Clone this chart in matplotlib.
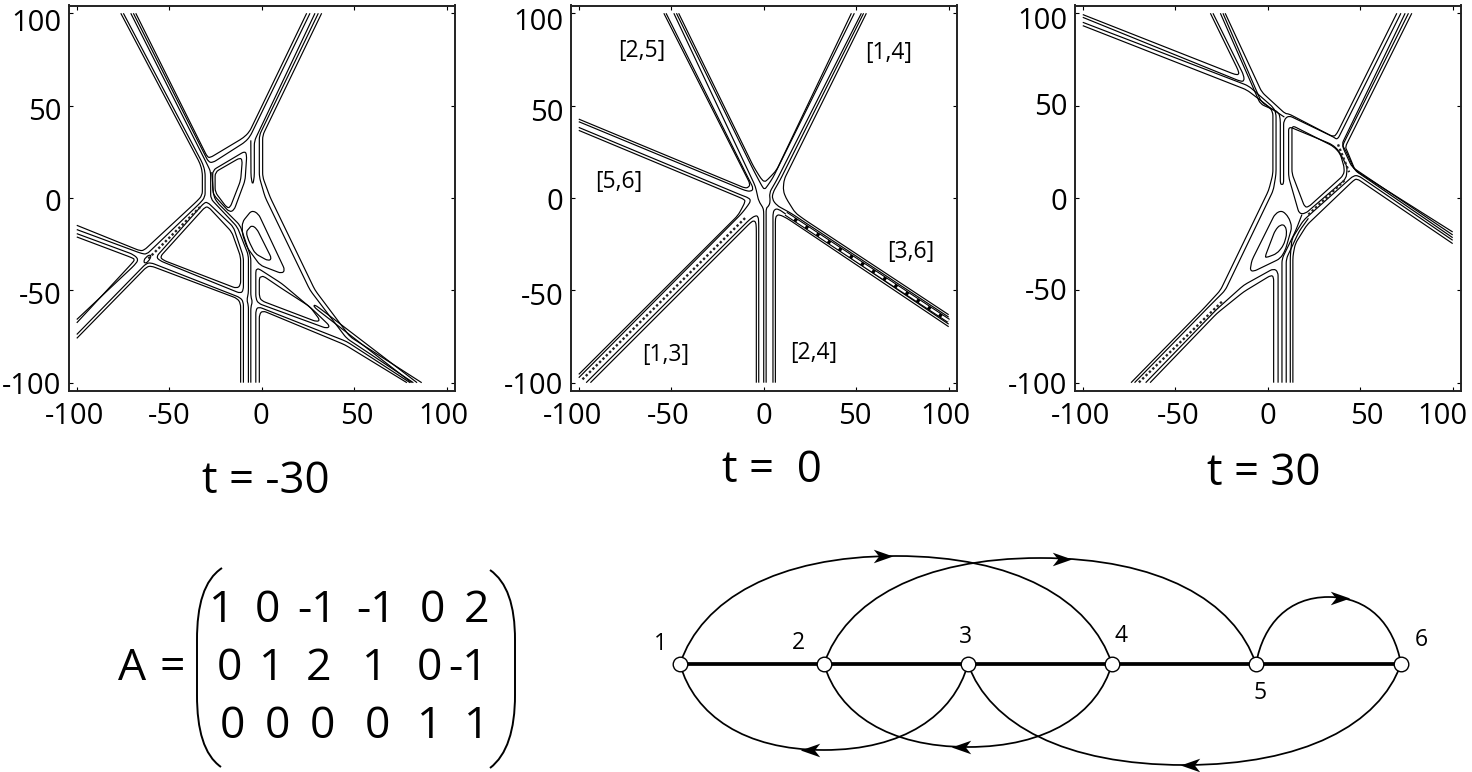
#! /usr/bin/env python3
#
# KP soliton contour panels, chord diagram and A matrix
#
import matplotlib as mpl
mpl.use('Agg')
import matplotlib.pyplot as plt
from matplotlib.path import Path
from matplotlib.patches import PathPatch
from matplotlib.transforms import ScaledTranslation

plt.rcParams['font.family'] = ['Open Sans', 'DejaVu Sans']

tick_values = [-100, -50, 0, 50, 100]
tick_labels = ['-100', '-50', '0', '50', '100']
panel_titles = ['t = -30', 't =  0', 't = 30']

# tick labels in the picture sit a little off their ticks (pixels)
p1_xlabel_shift = [-2, 0, -1, 3, -3.5]
p2_xlabel_shift = [-6, -3, 0, -1, -3]
p3_xlabel_shift = [-2.5, 3, 0, 7, -10]
p1_ylabel_shift = [0, -3, -2, -3, -7]
p2_ylabel_shift = [0, -4, -1, -4, -6]
p3_ylabel_shift = [0, 1, -1, 2, -5]

# t = -30 contour lines, data coordinates
p1_lines = [
    [(-76.2, 100), (-33.3, 18.6), (-32.1, 14.1), (-32.1, 1.4), (-35.1, -1.8), (-63.6, -28.3), (-65.8, -28.6), (-100, -14.8)],
    [(-74.8, 100), (-31.9, 18.6), (-30.6, 14.1), (-30.6, 0.5), (-33.3, -2.7), (-62.2, -30.5), (-64.9, -30.1), (-100, -17.1)],
    [(-100, -19.3), (-69.4, -30.6), (-66.5, -33.3), (-68.8, -36.4), (-100, -65.8)],
    [(-100, -21.1), (-70.3, -32.3), (-68.5, -33.3), (-70.3, -35.5), (-100, -67.6)],
    [(-100, -73.9), (-62.5, -35.5), (-60, -35), (-11.7, -53.9), (-9.9, -56.2), (-9.9, -100)],
    [(-100, -76), (-62.2, -37.3), (-59.8, -36.8), (-13.2, -54.4), (-11.4, -57.1), (-11.4, -100)],
    [(-57.1, -31.9), (-31.2, -2.7), (-29.4, -2.2), (-15.3, -15.7), (-9.9, -31.9), (-9.9, -49.9), (-11.4, -51.7), (-55, -34), (-57.1, -31.9)],
    [(-55, -31.9), (-30.6, -4.9), (-28.8, -4.9), (-16.2, -18.4), (-11.4, -31.9), (-11.4, -47.2), (-13.5, -49), (-53.2, -33.7), (-55, -31.9)],
    [(-63.6, -33.3), (-61.3, -31), (-59.5, -31), (-61.3, -34.6), (-63.6, -35.5), (-63.6, -33.3)],
    [(-70.8, 100), (-28.8, 16.8), (-27.6, 14.1), (-27.6, -0.4), (-13.2, -15.7), (-7.2, -31), (-7.2, -51.7), (-8.1, -55.3), (-7.2, -58), (-7.2, -100)],
    [(-27, 14), (-26, 1), (-24, -2.5), (-11.7, -14.8), (-5.9, -31.9), (-5.9, -53.5), (-5, -56.2), (-5.9, -58.9), (-5.9, -100)],
    [(-26.5, 15), (-9, 25.4), (-8.1, 23), (-9, 9.5), (-15, -6.7), (-17.5, -7.6), (-25.8, 1.4), (-26.5, 4.1), (-26.5, 15)],
    [(-25.2, 14), (-11.7, 21.8), (-10.5, 20.4), (-11.4, 9.5), (-17.1, -5.2), (-18.9, -5.2), (-25.2, 3.2), (-25.2, 14)],
    [(-68.1, 100), (-29.4, 22.2), (-27.9, 21.8), (-9.9, 32.6), (-6.7, 35.7), (24.3, 100)],
    [(-69.4, 100), (-28.8, 19.5), (-26.5, 19.1), (-9, 30.3), (-6.3, 33.3), (26.1, 100)],
    [(28.8, 100), (-4, 30.8), (-4, 11.4), (-4.9, 6.8), (-5.8, 11.4), (-5.9, 31.2)],
    [(30.6, 100), (-1.3, 33.9), (-1.3, 11.4), (1.8, 0.5), (26.1, -49.9), (45.9, -76), (82, -100)],
    [(32.4, 100), (0.5, 33.9), (0.5, 11.4), (4.5, 0.5), (28.8, -49.9), (47.7, -75.1), (86.5, -100)],
    [(-10.5, -13), (-5.4, -6.7), (-1.8, -8.5), (12.6, -39.1), (10.8, -40.9), (-0.9, -36.4), (-8.1, -26.5), (-10.5, -19.3), (-10.5, -13)],
    [(-8.5, -18.4), (-5.4, -14.8), (-2.7, -16.6), (5.4, -32.8), (3.6, -34.1), (-3.6, -30.1), (-7.2, -22.9), (-8.5, -18.4)],
    [(-3.2, -39.1), (-1.8, -38.2), (10.8, -46.3), (27.9, -60.7), (36.9, -69.4), (35.1, -70.6), (-1.8, -57.1), (-3.2, -54.4), (-3.2, -39.1)],
    [(-1.3, -43.1), (0.9, -42.3), (10.8, -49), (26.1, -58.9), (31.5, -66.1), (29.7, -67), (0, -55.7), (-1.3, -53.5), (-1.3, -43.1)],
    [(-3.2, -100), (-3.2, -60.7), (-1.8, -58.9), (45.9, -77.7), (80.2, -100)],
    [(-1.3, -100), (-1.3, -63), (0.5, -61), (45, -79.5), (78.5, -100)],
    [(84, -100), (29.5, -58.3), (28, -58), (28.8, -59.5), (81, -100)],
]
p1_dots = [[(-61.3, -32.8), (-33.3, -4.9)]]

# t = 0 contour lines
p2_lines = [
    [(-46, 100), (-5.5, 17), (-1.5, 10.5), (0.4, 8.6), (2.2, 10), (6.9, 15), (47.4, 100)],
    [(-47.2, 100), (-5.5, 15), (-1, 6.5), (0.4, 4.5), (2, 6.5), (5, 11), (49, 100)],
    [(-48.6, 100), (-4.5, 6.3), (-2.7, -1.8), (-0.5, -5), (0, -7), (0, -100)],
    [(52.8, 100), (7.2, 10), (3, 2.7), (3.6, -1.8), (2.7, -4.5), (1.3, -5.4), (1.3, -100)],
    [(54, 100), (9, 10), (5, 3), (4.5, -0.5), (7, -4), (15, -8.4), (100, -64.5)],
    [(55.5, 100), (11, 10), (10.5, 4), (12, 0), (17, -8), (22, -11.7), (100, -63.2)],
    [(-100, 42.7), (-10, 5.3), (-8.2, 5.8), (-7.3, 7.5), (-54, 100)],
    [(-100, 41.3), (-10, 4), (-7, 3.5), (-5.5, 5), (-52.8, 100)],
    [(-100, 38.2), (-12, 1.5), (-8, 0), (-7, -1.5), (-8.5, -4), (-12, -8.5), (-100, -97.3)],
    [(-100, 36.6), (-14, 0.7), (-10.5, -0.8), (-10, -2), (-12, -6), (-14, -9.5), (-100, -95.5)],
    [(-93.7, -100), (-7, -13.2), (-5.5, -12.3), (-4.3, -13), (-4, -16), (-4, -100)],
    [(-96, -100), (-7.5, -11.5), (-4.5, -9.5), (-3, -10), (-2.7, -13), (-2.7, -100)],
    [(6.3, -100), (6.3, -11), (7, -9.5), (8.5, -9), (12.6, -11), (100, -69.7)],
    [(5, -100), (5, -8), (6, -6), (8, -6), (13, -9.5), (100, -68.3)],
]
p2_dots = [[(-98, -98.2), (-10, -10.8)]]
p2_dashes = [[(12, -8.5), (100, -66.5)]]
p2_names = ['[2,5]', '[1,4]', '[5,6]', '[3,6]', '[1,3]', '[2,4]']
p2_name_x = [-66.1, 67.4, -78.5, 79.3, -53, 26.9]
p2_name_y = [79.6, 78.4, 8.8, -29.1, -85.1, -83.8]

# t = 30 contour lines
p3_lines = [
    [(-100, 99.3), (-17.6, 66.8), (-15.5, 66.8), (-15.9, 69), (-31, 100)],
    [(-100, 97.8), (-14.9, 63.2), (-12.7, 63.2), (-13, 66.5), (-29.6, 100)],
    [(-100, 95.1), (-10.4, 60.7), (3, 49), (4.5, 45.9), (4.5, 13), (3, 4.1), (-23, -50), (-31, -58), (-72, -100)],
    [(-100, 93.3), (-11.3, 58.5), (0.5, 49.5), (2.8, 46.7), (2.8, 13), (0.5, 4.1), (-25.6, -50), (-34.7, -59.9), (-73.9, -100)],
    [(-25.6, 100), (-4, 50.9), (5.9, 46.5), (6.8, 42.9), (6.8, 7.7), (7.7, 7.2), (8.6, 7.7), (8.6, 42), (11.3, 44.7), (35.6, 33), (37.7, 31.5), (72, 100)],
    [(-23, 100), (-3.2, 57.3), (9.5, 45.6), (11.3, 45.6), (35.6, 33), (37.4, 34.8), (69.8, 100)],
    [(-24.2, 100), (-3.5, 52), (9, 43.8)],
    [(13.1, 39.3), (35.6, 27.9), (39.2, 24), (41.5, 16), (41, 12.3), (22, -4.9), (20, -4.9), (13.1, 13.2), (13.1, 39.3)],
    [(11.3, 38.7), (34.7, 29), (38.3, 25.8), (43, 16.8), (42.4, 10.5), (20.3, -8.5), (17, -8.5), (11.3, 11.4), (11.3, 38.7)],
    [(100, -24.7), (48.2, 10.5), (46.4, 9.5), (21.2, -14.6), (14.9, -24.7), (13.6, -31.5), (13.6, -100)],
    [(100, -22.9), (49, 12.1), (46.4, 12.1), (19.4, -12), (13.1, -22), (12.2, -31.5), (12.2, -100)],
    [(77.9, 100), (41.9, 27.6), (42.8, 25.8), (47.3, 14.9), (100, -18.4)],
    [(76.1, 100), (40.5, 28.5), (40.9, 26.7), (45.5, 16.8), (100, -20)],
    [(74.3, 100), (40, 29), (42, 26), (47, 15), (100, -21.5)],
    [(-9.5, -39.1), (-8.6, -33.8), (4, -8.5), (7.7, -6.7), (11.3, -10.3), (13.1, -15.7), (9.5, -28.3), (6.8, -32.8), (-7.7, -39.8), (-9.5, -39.1)],
    [(-1.4, -31.7), (4, -17.5), (6.8, -14.4), (9.5, -14.8), (10.4, -19.3), (8.6, -25.6), (5, -30.1), (-0.8, -32.3), (-1.4, -31.7)],
    [(7.7, -100), (7.7, -33), (15, -18), (18.5, -9)],
    [(10, -100), (10, -33), (17, -18), (22, -11)],
    [(3.2, -100), (3.2, -42.7), (1.8, -41.8), (-13, -50.8), (-27.5, -62.5), (-63.6, -100)],
    [(5.6, -100), (5.6, -40), (3.2, -38.2), (-13, -47.2), (-27.5, -60.2), (-66, -100)],
]
p3_dots = [[(22, -9), (42, 10)], [(-24.8, -56.2), (-69.8, -100)], [(38, 29), (44, 14)]]

# matrix
matrix_rows = [['1', '0', '-1', '-1', '0', '2'],
               ['0', '1', '2', '1', '0', '-1'],
               ['0', '0', '0', '0', '1', '1']]
matrix_col_x = [[222, 267, 317, 376, 432, 477],
                [229, 272, 319, 375, 429, 468],
                [232, 277, 322, 377, 430, 477]]
matrix_row_y = [611, 669, 727]
paren_left = [(222, 568), (204, 580), (197, 605), (197, 640), (197, 695), (197, 730), (204, 755), (221, 767)]
paren_right = [(490, 570), (507, 582), (515, 605), (515, 640), (515, 695), (515, 730), (507, 755), (490, 768)]

# chord diagram
node_x = [680, 824, 968, 1112, 1256, 1401]
node_y = 664
node_names = ['1', '2', '3', '4', '5', '6']
node_name_x = [660, 798, 965, 1121, 1260, 1421]
node_name_y = [644, 643, 637, 636, 693, 640]
arc_from = [1, 2, 5, 1, 2, 3]
arc_to = [4, 5, 6, 3, 4, 6]
arc_height = [108, 106, 67, -86, -83, -101]
arrow_x = [883, 1062, 1340, 810, 961, 1190]
arrow_y = [556, 559, 598, 750, 747, 765]
arrow_dir = [1, 1, 1, -1, -1, -1]

fig = plt.figure(figsize=(14.72, 7.72), dpi=100)


def rounded_path(line, radius=2.2):
    # straight runs between the points, a small quadratic bend at each one
    pts = list(line)
    if pts[0] == pts[-1]:
        start = ((pts[0][0] + pts[1][0]) / 2, (pts[0][1] + pts[1][1]) / 2)
        pts = [start] + pts[1:] + [start]
    verts = [pts[0]]
    codes = [Path.MOVETO]
    for prev, cur, nxt in zip(pts[:-2], pts[1:-1], pts[2:]):
        d1 = ((cur[0] - prev[0]) ** 2 + (cur[1] - prev[1]) ** 2) ** 0.5
        d2 = ((nxt[0] - cur[0]) ** 2 + (nxt[1] - cur[1]) ** 2) ** 0.5
        r1 = min(radius, d1 / 2) / d1
        r2 = min(radius, d2 / 2) / d2
        verts.append((cur[0] - (cur[0] - prev[0]) * r1, cur[1] - (cur[1] - prev[1]) * r1))
        verts.append(cur)
        verts.append((cur[0] + (nxt[0] - cur[0]) * r2, cur[1] + (nxt[1] - cur[1]) * r2))
        codes += [Path.LINETO, Path.CURVE3, Path.CURVE3]
    verts.append(pts[-1])
    codes.append(Path.LINETO)
    return Path(verts, codes)


def contour_panel(left, lines, dots, dashes, xshift, yshift):
    ax = fig.add_axes([left / 1472, 1 - 391 / 772, 386 / 1472, 385.5 / 772])
    for line in lines:
        ax.add_patch(PathPatch(rounded_path(line), fill=False, edgecolor='black',
                               lw=0.85, joinstyle='round'))
    for line in dots:
        xx, yy = zip(*line)
        ax.plot(xx, yy, color='#222222', lw=1.7, linestyle=(0, (1, 1.0)),
                dash_capstyle='butt')
    for line in dashes:
        xx, yy = zip(*line)
        ax.plot(xx, yy, color='black', lw=3.2, solid_capstyle='butt')
        ax.plot(xx, yy, color='white', lw=1.6, linestyle=(0, (4.5, 1.5)),
                dash_capstyle='butt')
    ax.set_xlim(-104.2, 104.5)
    ax.set_ylim(-104.5, 104.2)
    ax.set_xticks(tick_values)
    ax.set_yticks(tick_values)
    ax.set_xticklabels(tick_labels)
    ax.set_yticklabels(tick_labels)
    ax.tick_params(direction='in', length=3, width=0.8, top=True, right=True,
                   labelsize=21)
    ax.tick_params(axis='x', pad=8)
    ax.tick_params(axis='y', pad=5.5)
    for label, dd in zip(ax.get_xticklabels(), xshift):
        label.set_transform(label.get_transform() + ScaledTranslation(dd / 100, 0, fig.dpi_scale_trans))
    for label, dd in zip(ax.get_yticklabels(), yshift):
        label.set_transform(label.get_transform() + ScaledTranslation(0, dd / 100, fig.dpi_scale_trans))
    for sp in ax.spines.values():
        sp.set_linewidth(1.4)
        sp.set_color('#222222')
    return ax


contour_panel(69, p1_lines, p1_dots, [], p1_xlabel_shift, p1_ylabel_shift)
ax2 = contour_panel(571, p2_lines, p2_dots, p2_dashes, p2_xlabel_shift, p2_ylabel_shift)
contour_panel(1075, p3_lines, p3_dots, [], p3_xlabel_shift, p3_ylabel_shift)

for name, xx, yy in zip(p2_names, p2_name_x, p2_name_y):
    ax2.text(xx, yy, name, fontsize=16.5, ha='center', va='center')

# everything below the panels goes on one axes in picture units
over = fig.add_axes([0, 0, 1, 1])
over.set_xlim(0, 1472)
over.set_ylim(772, 0)
over.axis('off')

over.text(266, 482, panel_titles[0], fontsize=31.5, ha='center', va='center')
over.text(772, 471, panel_titles[1], fontsize=31.5, ha='center', va='center')
over.text(1264, 474, panel_titles[2], fontsize=31.5, ha='center', va='center')

over.text(132, 669, 'A', fontsize=32, ha='center', va='center')
over.text(172, 669, '=', fontsize=32, ha='center', va='center')
for row, cols, yy in zip(matrix_rows, matrix_col_x, matrix_row_y):
    for val, xx in zip(row, cols):
        over.text(xx, yy, val, fontsize=32, ha='center', va='center')
for paren in (paren_left, paren_right):
    codes = [Path.MOVETO, Path.CURVE4, Path.CURVE4, Path.CURVE4, Path.LINETO,
             Path.CURVE4, Path.CURVE4, Path.CURVE4]
    over.add_patch(PathPatch(Path(paren, codes), fill=False, lw=1.4, edgecolor='black'))

for aa, bb, hh in zip(arc_from, arc_to, arc_height):
    x0 = node_x[aa - 1]
    x1 = node_x[bb - 1]
    xm = (x0 + x1) / 2
    half = xm - x0
    top = node_y - hh
    verts = [(x0, node_y), (x0 + 0.1 * half, node_y - 0.6 * hh), (xm - 0.55 * half, top), (xm, top),
             (xm + 0.55 * half, top), (x1 - 0.1 * half, node_y - 0.6 * hh), (x1, node_y)]
    codes = [Path.MOVETO] + [Path.CURVE4] * 6
    over.add_patch(PathPatch(Path(verts, codes), fill=False, lw=1.25, edgecolor='black'))

over.plot(node_x, [node_y] * len(node_x), color='black', lw=2.7)
over.plot(node_x, [node_y] * len(node_x), 'o', ms=10.5, mfc='white', mec='black', mew=1)

head = Path([(1, 0), (-1, 0.7), (-0.45, 0), (-1, -0.7), (1, 0)],
            [Path.MOVETO, Path.LINETO, Path.LINETO, Path.LINETO, Path.CLOSEPOLY])
head_l = Path([(-1, 0), (1, 0.7), (0.45, 0), (1, -0.7), (-1, 0)],
              [Path.MOVETO, Path.LINETO, Path.LINETO, Path.LINETO, Path.CLOSEPOLY])
for xx, yy, dd in zip(arrow_x, arrow_y, arrow_dir):
    over.plot([xx], [yy], marker=head if dd > 0 else head_l, ms=14, color='black', mew=0)

for name, xx, yy in zip(node_names, node_name_x, node_name_y):
    over.text(xx, yy, name, fontsize=16.5, ha='center', va='center')

plt.savefig('out.png', dpi=100)
